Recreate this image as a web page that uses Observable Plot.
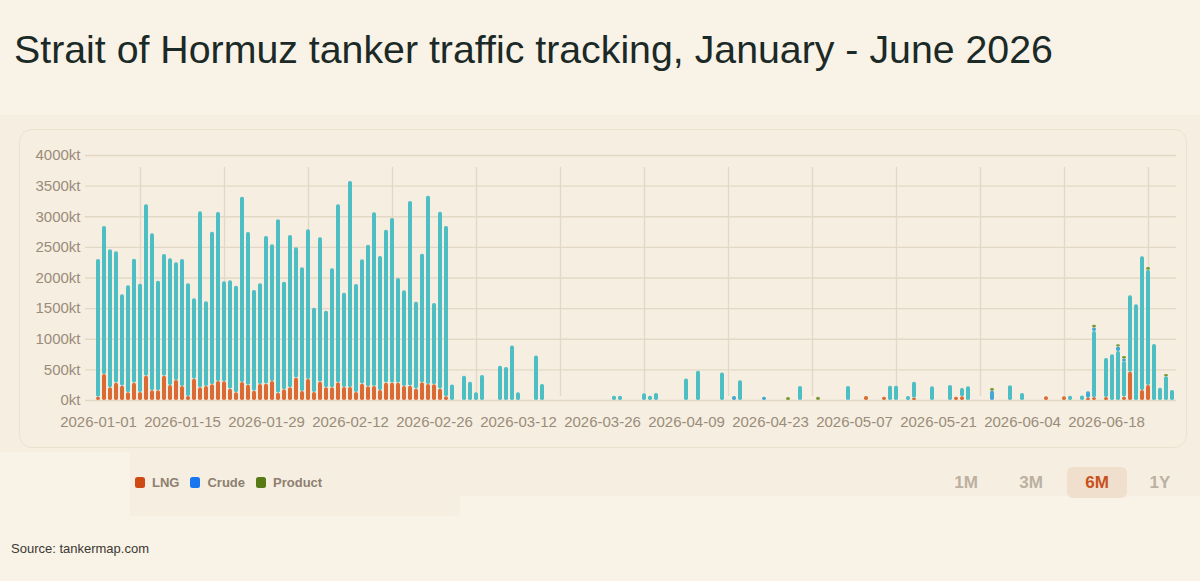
<!DOCTYPE html>
<html>
<head>
<meta charset="utf-8">
<script src="https://cdn.jsdelivr.net/npm/d3@7"></script>
<script src="https://cdn.jsdelivr.net/npm/@observablehq/plot@0.6"></script>
<style>
  html, body { margin: 0; padding: 0; }
  body { width: 1200px; height: 581px; background: #f9f2e6; position: relative; overflow: hidden;
         font-family: "Liberation Sans", Arial, Helvetica, sans-serif; }
  #title { position: absolute; left: 14px; top: 30px; font-size: 39.3px; line-height: 1; color: #1b2a27; white-space: nowrap; }
  #band { position: absolute; left: 0; top: 115px; width: 1200px; height: 337px; background: #f6efe1; }
  #legendband { position: absolute; left: 130px; top: 452px; width: 1070px; height: 44px; background: #f6eee0; }
  #legendband2 { position: absolute; left: 130px; top: 496px; width: 330px; height: 20px; background: #f6eee0; }
  #card { position: absolute; left: 19px; top: 129px; width: 1168px; height: 319px; border: 1.5px solid #ebe1cf; border-radius: 13px; background: #f6eee0; box-sizing: border-box; }
  #chart { position: absolute; left: 0; top: 130px; }
  #legend { position: absolute; left: 135px; top: 475px; display: flex; align-items: center; font-size: 13px; font-weight: bold; color: #8d8071; }
  .sw { width: 10px; height: 11px; border-radius: 2.5px; display: inline-block; margin-right: 7px; }
  .item { display: flex; align-items: center; margin-right: 11px; }
  #buttons { position: absolute; top: 467px; left: 0; width: 1200px; height: 31px; }
  .btn { position: absolute; top: 0; height: 31px; line-height: 31px; text-align: center; font-size: 17px; font-weight: bold; color: #bbb0a2; width: 60px; border-radius: 6px; }
  .btn.active { background: #f0dfcc; color: #c94f1c; }
  #source { position: absolute; left: 11px; top: 541px; font-size: 13px; color: #3b3833; }
</style>
</head>
<body>
<div id="title">Strait of Hormuz tanker traffic tracking, January - June 2026</div>
<div id="band"></div>
<div id="legendband"></div>
<div id="legendband2"></div>
<div id="card"></div>
<div id="chart"></div>
<div id="legend"></div>
<div id="buttons"></div>
<div id="source">Source: tankermap.com</div>
<script>
// ---- Data (kt per day) ----
// Jan 1 - Feb 28: consecutive daily bars (total and LNG part)
const janFebStart = "2026-01-01";
const janFebTotal = [2302, 2841, 2460, 2427, 1725, 1872, 2307, 1899, 3194, 2721,
  1948, 2384, 2313, 2248, 2302, 1905, 1660, 3080, 1611, 2748,
  3069, 1937, 1954, 1867, 3320, 2743, 1796, 1905, 2677, 2541,
  2950, 1932, 2694, 2492, 2166, 2786, 1507, 2656, 1458, 2150,
  3194, 1752, 3575, 1894, 2296, 2536, 3064, 2351, 2781, 2971,
  1992, 1790, 3249, 1605, 2389, 3336, 1584, 3075, 2841];
const janFebLNG = [54, 424, 207, 283, 234, 125, 283, 130, 397, 158,
  158, 397, 245, 327, 229, 65, 348, 207, 229, 256,
  310, 305, 185, 125, 294, 250, 152, 261, 267, 310,
  120, 174, 207, 365, 147, 343, 131, 299, 207, 207,
  288, 212, 212, 131, 267, 223, 229, 163, 283, 283,
  283, 229, 234, 185, 288, 261, 256, 185, 60];

// March - June: sparse days (parallel arrays)
const laterDates = [
  "2026-03-01","2026-03-03","2026-03-04","2026-03-05","2026-03-06",
  "2026-03-09","2026-03-10","2026-03-11","2026-03-12","2026-03-15","2026-03-16",
  "2026-03-28","2026-03-29","2026-04-02","2026-04-03","2026-04-04","2026-04-09",
  "2026-04-11","2026-04-15","2026-04-17","2026-04-18","2026-04-22","2026-04-26",
  "2026-04-28","2026-05-01","2026-05-06","2026-05-09","2026-05-12","2026-05-13",
  "2026-05-14","2026-05-16","2026-05-17","2026-05-20","2026-05-23","2026-05-24",
  "2026-05-25","2026-05-26","2026-05-30","2026-06-02","2026-06-04","2026-06-08",
  "2026-06-11","2026-06-12","2026-06-14","2026-06-15","2026-06-16","2026-06-18",
  "2026-06-19","2026-06-20","2026-06-21","2026-06-22","2026-06-23","2026-06-24",
  "2026-06-25","2026-06-26","2026-06-27","2026-06-28","2026-06-29"];
const laterLNG = [
  0, 0, 0, 0, 0,
  0, 0, 0, 0, 0, 0,
  0, 0, 0, 0, 0, 0,
  0, 0, 0, 0, 0, 0,
  0, 0, 0, 65, 55, 0,
  0, 0, 35, 0, 0, 55,
  60, 0, 0, 0, 0, 60,
  60, 0, 0, 35, 45, 50,
  0, 0, 55, 462, 0, 163,
  245, 0, 0, 0, 0];
const laterOther = [
  255, 397, 299, 125, 408,
  560, 538, 891, 125, 728, 261,
  70, 70, 109, 70, 114, 353,
  478, 451, 0, 321, 0, 0,
  228, 0, 228, 0, 0, 234,
  234, 65, 264, 223, 245, 0,
  136, 223, 0, 240, 115, 0,
  0, 70, 75, 0, 1080, 635,
  745, 800, 580, 1250, 1565, 2185,
  1880, 913, 201, 388, 163];
const laterCrude = [
  0, 0, 0, 0, 0,
  0, 0, 0, 0, 0, 0,
  0, 0, 0, 0, 0, 0,
  0, 0, 65, 0, 55, 0,
  0, 0, 0, 0, 0, 0,
  0, 0, 0, 0, 0, 0,
  0, 0, 150, 0, 0, 0,
  0, 0, 0, 106, 60, 0,
  0, 75, 40, 0, 0, 0,
  0, 0, 0, 0, 0];
const laterProduct = [
  0, 0, 0, 0, 0,
  0, 0, 0, 0, 0, 0,
  0, 0, 0, 0, 0, 0,
  0, 0, 0, 0, 0, 50,
  0, 55, 0, 0, 0, 0,
  0, 0, 0, 0, 0, 0,
  0, 0, 45, 0, 0, 0,
  0, 0, 0, 0, 45, 0,
  0, 35, 45, 0, 0, 0,
  45, 0, 0, 35, 0];

const seriesNames = ["LNG", "Other", "Crude", "Product"];
const barColors = ["#dc6a34", "#4dbec3", "#42a8d4", "#7e9a3a"];
const legendNames = ["LNG", "Crude", "Product"];
const legendColors = ["#cf4a12", "#1877ee", "#587a14"];
const yTicks = [0, 500, 1000, 1500, 2000, 2500, 3000, 3500, 4000];
const tickLabels = ["2026-01-01","2026-01-15","2026-01-29","2026-02-12","2026-02-26",
  "2026-03-12","2026-03-26","2026-04-09","2026-04-23","2026-05-07","2026-05-21",
  "2026-06-04","2026-06-18"];
const gridDates = ["2026-01-08","2026-01-22","2026-02-05","2026-02-19","2026-03-05",
  "2026-03-19","2026-04-02","2026-04-16","2026-04-30","2026-05-14","2026-05-28",
  "2026-06-11","2026-06-25"];
const buttons = ["1M", "3M", "6M", "1Y"];
const activeButton = "6M";

// ---- Build table ----
const fmt = d3.utcFormat("%Y-%m-%d");
const allDays = d3.utcDay.range(new Date("2026-01-01"), new Date("2026-07-01")).map(fmt);
const rows = [];
janFebTotal.forEach((t, i) => {
  const date = fmt(d3.utcDay.offset(new Date(janFebStart), i));
  rows.push({date, type: "LNG", value: janFebLNG[i]});
  rows.push({date, type: "Other", value: t - janFebLNG[i]});
});
laterDates.forEach((date, i) => {
  rows.push({date, type: "LNG", value: laterLNG[i]});
  rows.push({date, type: "Other", value: laterOther[i]});
  rows.push({date, type: "Crude", value: laterCrude[i]});
  rows.push({date, type: "Product", value: laterProduct[i]});
});
const data = rows.filter(d => d.value > 0);

const grid = "#e3d8c6";
const chart = Plot.plot({
  width: 1200,
  height: 310,
  marginTop: 25,
  marginBottom: 40,
  marginLeft: 95,
  marginRight: 18,
  style: {background: "transparent", fontFamily: "'Liberation Sans', Arial, sans-serif", fontSize: "15px", color: "#9a8c7b", overflow: "visible"},
  x: {type: "band", domain: allDays, paddingInner: 0.3, paddingOuter: 0.15, label: null},
  y: {domain: [0, 4000], label: null},
  color: {domain: seriesNames, range: barColors},
  marks: [
    Plot.ruleY(yTicks, {stroke: grid, strokeWidth: 1.3, insetLeft: -10, insetRight: 6}),
    Plot.ruleX(gridDates, {y1: 0, y2: 4000, stroke: grid, strokeWidth: 1.3, insetTop: -4, insetBottom: -12}),
    Plot.barY(data, {x: "date", y: "value", fill: "type", order: seriesNames, rx: 1.8}),
    Plot.axisY(yTicks, {tickSize: 0, tickPadding: 15, tickFormat: d => d + "kt", fontSize: 15, fill: "#9a8c7b"}),
    Plot.axisX(tickLabels, {tickSize: 0, tickPadding: 16, fontSize: 15, fill: "#9a8c7b"})
  ]
});
document.getElementById("chart").appendChild(chart);

// Legend
const legend = document.getElementById("legend");
legendNames.forEach((n, i) => {
  const it = document.createElement("div");
  it.className = "item";
  it.innerHTML = `<span class="sw" style="background:${legendColors[i]}"></span>${n}`;
  legend.appendChild(it);
});

// Range buttons
const btnCenters = [966, 1031, 1097, 1160];
const bdiv = document.getElementById("buttons");
buttons.forEach((b, i) => {
  const el = document.createElement("div");
  el.className = "btn" + (b === activeButton ? " active" : "");
  el.style.left = (btnCenters[i] - 30) + "px";
  el.textContent = b;
  bdiv.appendChild(el);
});
</script>
</body>
</html>
